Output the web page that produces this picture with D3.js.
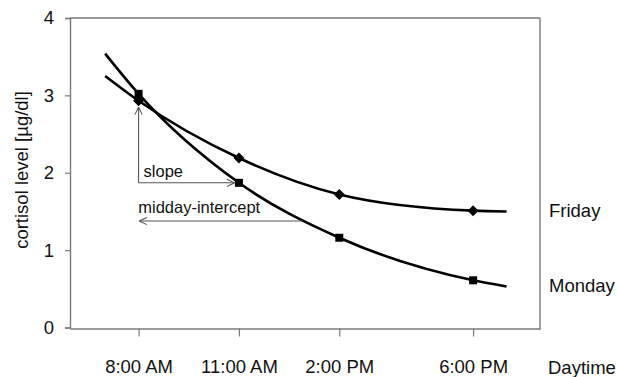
<!DOCTYPE html>
<html>
<head>
<meta charset="utf-8">
<script src="https://cdn.jsdelivr.net/npm/d3@7"></script>
<style>
  html, body { margin: 0; padding: 0; background: #fff; }
  svg { display: block; font-family: "Liberation Sans", Arial, Helvetica, sans-serif; }
</style>
</head>
<body>
<svg id="chart" width="617" height="377"></svg>
<script>
// ---- data ----
const tickHours = [8, 11, 14, 18];
const tickLabels = ["8:00 AM", "11:00 AM", "2:00 PM", "6:00 PM"];
const yTicks = [0, 1, 2, 3, 4];

// measured points (markers)
const markerHours = [8, 11, 14, 18];
const fridayValues = [2.93, 2.19, 1.72, 1.51];
const mondayValues = [3.02, 1.87, 1.16, 0.61];

// fitted curves (extend beyond measurements)
const curveHours = [7, 8, 11, 14, 18, 19];
const fridayCurve = [3.25, 2.93, 2.19, 1.72, 1.51, 1.50];
const mondayCurve = [3.54, 3.02, 1.87, 1.16, 0.61, 0.53];

const seriesNames = ["Friday", "Monday"];
const seriesLabelValues = [1.50, 0.53];

// annotations (data units)
const slopeFrom = { h: 8, v: 1.87 };
const slopeUpTo = 2.85;
const slopeRightTo = 10.87;
const interceptValue = 1.376;
const interceptFrom = 12.9;
const interceptTo = 8.02;

// ---- layout ----
const svg = d3.select("#chart");
const x = d3.scaleLinear().domain([5.95, 20]).range([70, 540]);
const y = d3.scaleLinear().domain([0, 4]).range([327.5, 18]);

const axisColor = "#7a7a7a";
const annColor = "#555";
const font = "Liberation Sans, Arial, sans-serif";

// arrow marker
const defs = svg.append("defs");
defs.append("marker")
  .attr("id", "arrow")
  .attr("viewBox", "0 0 10 10")
  .attr("refX", 9.5).attr("refY", 5)
  .attr("markerWidth", 9).attr("markerHeight", 9)
  .attr("markerUnits", "userSpaceOnUse")
  .attr("orient", "auto")
  .append("path")
  .attr("d", "M1,1 L9.5,5 L1,9")
  .attr("fill", "none")
  .attr("stroke", annColor)
  .attr("stroke-width", 1.2);

// frame
const frame = svg.append("g").attr("stroke", axisColor).attr("stroke-width", 1.4).attr("fill", "none");
frame.append("line").attr("x1", x.range()[0]).attr("x2", x.range()[1]).attr("y1", y(4)).attr("y2", y(4));
frame.append("line").attr("x1", x.range()[1]).attr("x2", x.range()[1]).attr("y1", y(4)).attr("y2", y(0) + 2);

// y axis
const yAxis = d3.axisLeft(y).tickValues(yTicks).tickSize(5).tickPadding(11).tickFormat(d3.format("d"));
const gy = svg.append("g").attr("transform", `translate(${x.range()[0]},0)`).call(yAxis);
gy.select(".domain").attr("stroke", axisColor).attr("stroke-width", 1.4);
gy.selectAll(".tick line").attr("stroke", axisColor).attr("stroke-width", 1.2);
gy.selectAll(".tick text").attr("font-size", 18.5).attr("fill", "#111").attr("font-family", font);

// x axis
const xAxis = d3.axisBottom(x).tickValues(tickHours).tickSize(8).tickPadding(23)
  .tickFormat((d, i) => tickLabels[i]).tickSizeOuter(0);
const gx = svg.append("g").attr("transform", `translate(0,${y(0) + 1})`).call(xAxis);
gx.select(".domain").attr("stroke", axisColor).attr("stroke-width", 1.4);
gx.selectAll(".tick line").attr("stroke", axisColor).attr("stroke-width", 1.2);
gx.selectAll(".tick text").attr("font-size", 18.5).attr("fill", "#111").attr("font-family", font);

// axis titles
svg.append("text")
  .attr("transform", `translate(28,170) rotate(-90)`)
  .attr("text-anchor", "middle")
  .attr("font-size", 18.5).attr("fill", "#111")
  .text("cortisol level [µg/dl]");

svg.append("text")
  .attr("x", 548).attr("y", 374)
  .attr("font-size", 18.5).attr("fill", "#111")
  .text("Daytime");

// curves
const line = d3.line().x(d => x(d[0])).y(d => y(d[1])).curve(d3.curveMonotoneX);
[fridayCurve, mondayCurve].forEach(vals => {
  svg.append("path")
    .datum(curveHours.map((h, i) => [h, vals[i]]))
    .attr("d", line)
    .attr("fill", "none")
    .attr("stroke", "#000")
    .attr("stroke-width", 2.6);
});

// markers
svg.append("g").selectAll("path")
  .data(markerHours.map((h, i) => [h, fridayValues[i]]))
  .join("path")
  .attr("transform", d => `translate(${x(d[0])},${y(d[1])})`)
  .attr("d", "M0,-5.5L5.5,0L0,5.5L-5.5,0Z")
  .attr("fill", "#000");

svg.append("g").selectAll("rect")
  .data(markerHours.map((h, i) => [h, mondayValues[i]]))
  .join("rect")
  .attr("x", d => x(d[0]) - 4).attr("y", d => y(d[1]) - 4)
  .attr("width", 8).attr("height", 8)
  .attr("fill", "#000");

// series labels
svg.append("g").selectAll("text")
  .data(seriesNames)
  .join("text")
  .attr("x", 549)
  .attr("y", (d, i) => y(seriesLabelValues[i]) + 6)
  .attr("font-size", 18.5).attr("fill", "#111")
  .text(d => d);

// annotations
const ann = svg.append("g").attr("stroke", annColor).attr("stroke-width", 1.1).attr("fill", "none");
ann.append("line")
  .attr("x1", x(slopeFrom.h)).attr("y1", y(slopeFrom.v))
  .attr("x2", x(slopeFrom.h)).attr("y2", y(slopeUpTo))
  .attr("marker-end", "url(#arrow)");
ann.append("line")
  .attr("x1", x(slopeFrom.h)).attr("y1", y(slopeFrom.v))
  .attr("x2", x(slopeRightTo)).attr("y2", y(slopeFrom.v))
  .attr("marker-end", "url(#arrow)");
ann.append("line")
  .attr("x1", x(interceptFrom)).attr("y1", y(interceptValue))
  .attr("x2", x(interceptTo)).attr("y2", y(interceptValue))
  .attr("marker-end", "url(#arrow)");

svg.append("text")
  .attr("x", x(slopeFrom.h) + 5).attr("y", y(slopeFrom.v) - 6)
  .attr("font-size", 16.5).attr("fill", "#111")
  .text("slope");
svg.append("text")
  .attr("x", x(interceptTo) - 1).attr("y", y(interceptValue) - 8)
  .attr("font-size", 16.5).attr("fill", "#111")
  .text("midday-intercept");
</script>
</body>
</html>
